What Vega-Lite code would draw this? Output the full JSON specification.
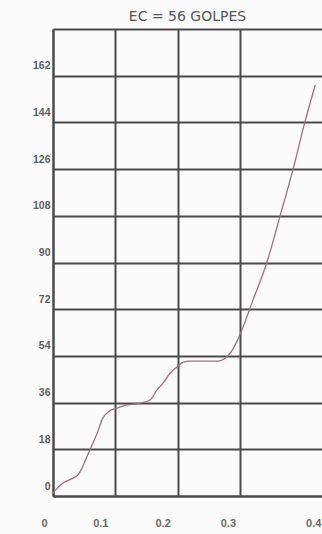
{
  "$schema": "https://vega.github.io/schema/vega-lite/v6.json",
  "width": 269,
  "height": 467,
  "autosize": "none",
  "padding": {"left": 53, "top": 29, "right": 0, "bottom": 38},
  "background": "#fbfbfb",
  "title": {
    "text": "EC = 56 GOLPES",
    "font": "DejaVu Sans",
    "fontSize": 14,
    "fontWeight": "normal",
    "color": "#555555",
    "anchor": "middle",
    "offset": -10
  },
  "data": {
    "values": [
      {"deformacion": 0.0, "esfuerzo": 1.2},
      {"deformacion": 0.016, "esfuerzo": 5.0},
      {"deformacion": 0.032, "esfuerzo": 6.9},
      {"deformacion": 0.04, "esfuerzo": 8.1},
      {"deformacion": 0.059, "esfuerzo": 17.7},
      {"deformacion": 0.071, "esfuerzo": 24.3},
      {"deformacion": 0.08, "esfuerzo": 30.1},
      {"deformacion": 0.091, "esfuerzo": 32.8},
      {"deformacion": 0.103, "esfuerzo": 33.9},
      {"deformacion": 0.119, "esfuerzo": 35.1},
      {"deformacion": 0.14, "esfuerzo": 35.8},
      {"deformacion": 0.156, "esfuerzo": 37.0},
      {"deformacion": 0.167, "esfuerzo": 40.9},
      {"deformacion": 0.177, "esfuerzo": 43.6},
      {"deformacion": 0.188, "esfuerzo": 47.4},
      {"deformacion": 0.199, "esfuerzo": 49.7},
      {"deformacion": 0.209, "esfuerzo": 51.6},
      {"deformacion": 0.22, "esfuerzo": 52.0},
      {"deformacion": 0.263, "esfuerzo": 52.0},
      {"deformacion": 0.279, "esfuerzo": 53.6},
      {"deformacion": 0.295, "esfuerzo": 59.4},
      {"deformacion": 0.305, "esfuerzo": 65.1},
      {"deformacion": 0.321, "esfuerzo": 75.5},
      {"deformacion": 0.343, "esfuerzo": 89.8},
      {"deformacion": 0.364, "esfuerzo": 107.5},
      {"deformacion": 0.385, "esfuerzo": 125.6},
      {"deformacion": 0.404, "esfuerzo": 143.8},
      {"deformacion": 0.421, "esfuerzo": 158.4}
    ]
  },
  "mark": {
    "type": "line",
    "interpolate": "monotone",
    "color": "#a0707e",
    "strokeWidth": 1.3
  },
  "encoding": {
    "x": {
      "field": "deformacion",
      "type": "quantitative",
      "scale": {"domain": [0, 0.4318], "nice": false, "zero": false},
      "axis": {
        "title": null,
        "values": [0, 0.1, 0.2, 0.3, 0.4],
        "labelExpr": "datum.value == 0 ? '0' : format(datum.value, '.1f')",
        "ticks": false,
        "domain": true,
        "domainColor": "#4a4a4a",
        "domainWidth": 2,
        "grid": true,
        "gridColor": "#4a4a4a",
        "gridWidth": 2,
        "gridOpacity": {"condition": {"test": "datum.value > 0.35", "value": 0}, "value": 1},
        "labelFont": "Liberation Sans",
        "labelFontSize": 11,
        "labelFontWeight": "bold",
        "labelColor": "#6a6a6a",
        "labelPadding": 21,
        "labelFlush": false,
        "labelOverlap": false,
        "labelBound": false,
        "labelOffset": {
          "condition": [
            {"test": "datum.value < 0.05", "value": -9},
            {"test": "datum.value < 0.25", "value": -15},
            {"test": "datum.value < 0.35", "value": -12}
          ],
          "value": 11
        }
      }
    },
    "y": {
      "field": "esfuerzo",
      "type": "quantitative",
      "scale": {"domain": [0, 180], "nice": false},
      "axis": {
        "title": null,
        "values": [0, 18, 36, 54, 72, 90, 108, 126, 144, 162, 180],
        "labelExpr": "datum.value == 180 ? '' : datum.label",
        "ticks": false,
        "domain": true,
        "domainColor": "#4a4a4a",
        "domainWidth": 2,
        "grid": true,
        "gridColor": "#4a4a4a",
        "gridWidth": 2,
        "labelFont": "Liberation Sans",
        "labelFontSize": 10.5,
        "labelFontWeight": "bold",
        "labelColor": "#5e5e5e",
        "labelPadding": 3,
        "labelOffset": -10,
        "labelBaseline": "middle",
        "labelFlush": false,
        "labelOverlap": false,
        "labelBound": false
      }
    }
  },
  "config": {"view": {"stroke": null}}
}
